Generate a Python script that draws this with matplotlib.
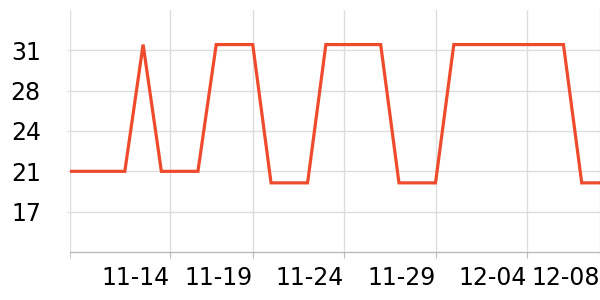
import datetime as dt

import matplotlib

matplotlib.use("Agg")
import matplotlib.dates as mdates
import matplotlib.pyplot as plt
from matplotlib.ticker import FixedLocator, FuncFormatter

# 每日数据 11-09 ~ 12-08
start_day = dt.date(2023, 11, 9)
values = [21, 21, 21, 21, 32, 21, 21, 21, 32, 32, 32, 20, 20, 20, 32,
          32, 32, 32, 20, 20, 20, 32, 32, 32, 32, 32, 32, 32, 20, 20]
days = [start_day + dt.timedelta(days=i) for i in range(len(values))]

x_tick_days = ["11-14", "11-19", "11-24", "11-29", "12-04", "12-08"]
y_ticks = [17.5, 21, 24.5, 28, 31.5]
y_range = (14, 35)

line_color = "#ee4a2c"
grid_color = "#dddddd"
axis_color = "#bbbbbb"

fig = plt.figure(figsize=(6, 3), dpi=100)
ax = fig.add_axes([70 / 600, 48 / 300, 530 / 600, 242 / 300])

ax.plot(days, values, color=line_color, linewidth=2.3, solid_joinstyle="miter", zorder=3)

ax.set_xlim(days[0], days[-1])
ax.set_ylim(*y_range)

tick_dates = [dt.datetime(2023, int(s[:2]), int(s[3:])) for s in x_tick_days]
# 第一条刻度在图上略偏右
tick_dates[0] = tick_dates[0] + dt.timedelta(hours=11)
ax.xaxis.set_major_locator(FixedLocator(mdates.date2num(tick_dates)))
ax.set_xticklabels(x_tick_days, fontsize=17, ha="right")
ax.xaxis.set_minor_locator(FixedLocator([mdates.date2num(days[0])]))

ax.yaxis.set_major_locator(FixedLocator(y_ticks))
ax.yaxis.set_major_formatter(FuncFormatter(lambda v, p: f"{int(v)}"))
ax.tick_params(axis="y", labelsize=17, length=2, color=grid_color, pad=19)
ax.tick_params(axis="x", which="both", length=4, color=axis_color, pad=6)

ax.grid(True, color=grid_color, linewidth=1)
ax.axvline(days[0], color=grid_color, linewidth=1, zorder=1)

for side in ("top", "right", "left"):
    ax.spines[side].set_visible(False)
ax.spines["bottom"].set_color(axis_color)
ax.spines["bottom"].set_linewidth(1)

fig.savefig("out.png", dpi=100)
